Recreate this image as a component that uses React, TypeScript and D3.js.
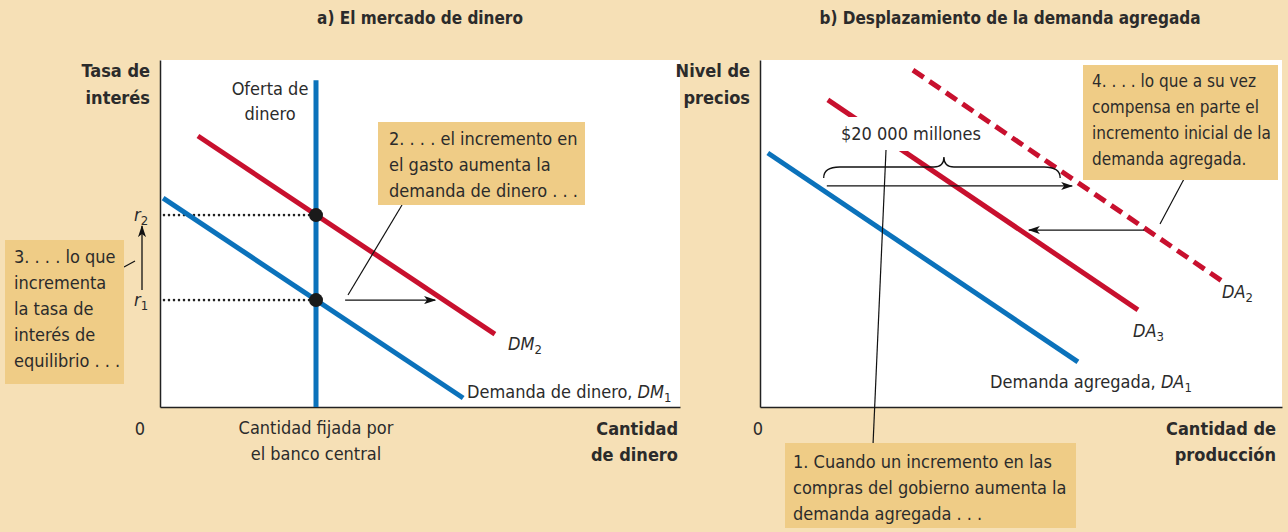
import React, { useEffect, useRef } from "react";
import * as d3 from "d3";

// panel a) values, in chart units (0..100 on both axes)
const supplyQ = 30;
const supplyTop = 94.2;
const r1 = 30.8;
const r2 = 55.3;
const dm1: [number, number][] = [[0.6, 60.2], [58.3, 2.6]];
const dm2: [number, number][] = [[7.3, 78.1], [64.4, 21.0]];
const dmShift: [number, number][] = [[35.6, r1], [52.9, r1]];

// panel b) values
const da1: [number, number][] = [[1.5, 73.2], [60.9, 13.0]];
const da3: [number, number][] = [[13.0, 88.5], [72.4, 28.0]];
const da2: [number, number][] = [[29.3, 97.1], [89.1, 35.7]];
const daShiftRight: [number, number][] = [[12.8, 63.7], [59.8, 63.7]];
const daShiftLeft: [number, number][] = [[73.6, 51.0], [51.5, 51.0]];
const braceFrom = 12.2;
const braceTo = 57.5;

const titleA = "a) El mercado de dinero";
const titleB = "b) Desplazamiento de la demanda agregada";
const note2 = ["2. . . . el incremento en", "el gasto aumenta la", "demanda de dinero . . ."];
const note3 = ["3. . . . lo que", "incrementa", "la tasa de", "interés de", "equilibrio . . ."];
const note4 = ["4. . . . lo que a su vez", "compensa en parte el", "incremento inicial de la", "demanda agregada."];
const note1 = ["1. Cuando un incremento en las", "compras del gobierno aumenta la", "demanda agregada . . ."];

const BG = "#f6e0b6";
const BOX = "#efcc86";
const BLUE = "#0b72bb";
const RED = "#c8102e";
const INK = "#2b2b2b";
const FONT = "'Liberation Sans Narrow', 'DejaVu Sans Condensed', Roboto, sans-serif";

export default function App() {
  const ref = useRef<HTMLDivElement>(null);

  useEffect(() => {
    document.body.style.margin = "0";
    const root = d3.select(ref.current);
    root.selectAll("*").remove();
    const W = 1288, H = 532;
    const svg = root.append("svg").attr("width", W).attr("height", H)
      .style("display", "block").style("font-family", FONT);

    svg.append("rect").attr("width", W).attr("height", H).attr("fill", BG);

    const defs = svg.append("defs");
    defs.append("marker").attr("id", "arr").attr("viewBox", "0 0 12 8")
      .attr("refX", 11).attr("refY", 4).attr("markerWidth", 12).attr("markerHeight", 8)
      .attr("markerUnits", "userSpaceOnUse").attr("orient", "auto")
      .append("path").attr("d", "M0,0 L12,4 L0,8 L3,4 Z").attr("fill", "#111");

    const line = d3.line();

    // ---------- panel a ----------
    const xA = d3.scaleLinear().domain([0, 100]).range([160, 680]);
    const yA = d3.scaleLinear().domain([0, 100]).range([407, 60]);
    const pA = (d: [number, number][]) => line(d.map(([a, b]) => [xA(a), yA(b)]));

    svg.append("rect").attr("x", xA(0)).attr("y", yA(100)).attr("width", xA(100) - xA(0))
      .attr("height", yA(0) - yA(100)).attr("fill", "#fff");

    svg.append("g").attr("transform", `translate(${xA(0)},0)`)
      .call(d3.axisLeft(yA).ticks(0).tickSizeOuter(0))
      .select(".domain").attr("stroke", "#222").attr("stroke-width", 1.5);
    svg.append("g").attr("transform", `translate(0,${yA(0)})`)
      .call(d3.axisBottom(xA).ticks(0).tickSizeOuter(0))
      .select(".domain").attr("stroke", "#222").attr("stroke-width", 1.5);

    [r1, r2].forEach((r) => {
      svg.append("line").attr("x1", xA(0) + 4).attr("x2", xA(supplyQ)).attr("y1", yA(r)).attr("y2", yA(r))
        .attr("stroke", "#222").attr("stroke-width", 2.6).attr("stroke-linecap", "round")
        .attr("stroke-dasharray", "0 5");
    });

    svg.append("path").attr("d", pA(dm2)).attr("stroke", RED).attr("stroke-width", 5).attr("fill", "none");
    svg.append("path").attr("d", pA(dm1)).attr("stroke", BLUE).attr("stroke-width", 5).attr("fill", "none");
    svg.append("line").attr("x1", xA(supplyQ)).attr("x2", xA(supplyQ)).attr("y1", yA(supplyTop)).attr("y2", yA(0))
      .attr("stroke", BLUE).attr("stroke-width", 5);

    [r1, r2].forEach((r) => {
      svg.append("circle").attr("cx", xA(supplyQ)).attr("cy", yA(r)).attr("r", 7).attr("fill", "#1a1a1a");
    });

    svg.append("path").attr("d", pA(dmShift)).attr("stroke", "#111").attr("stroke-width", 1.3)
      .attr("fill", "none").attr("marker-end", "url(#arr)");

    // r1 -> r2 arrow
    svg.append("line").attr("x1", 142).attr("x2", 142).attr("y1", yA(r1) - 10).attr("y2", yA(r2) + 11)
      .attr("stroke", "#111").attr("stroke-width", 1.3).attr("marker-end", "url(#arr)");

    const txt = (x: number, y: number, s: string, anchor = "start", opt: any = {}) => {
      const t = svg.append("text").attr("x", x).attr("y", y).attr("text-anchor", anchor)
        .attr("fill", INK).attr("font-size", opt.size || 18)
        .attr("font-weight", opt.bold ? 700 : 400).text(s);
      return t;
    };
    const sub = (x: number, y: number, base: string, idx: string, pre = "") => {
      const t = svg.append("text").attr("x", x).attr("y", y).attr("fill", INK).attr("font-size", 18);
      if (pre) t.append("tspan").text(pre);
      t.append("tspan").attr("font-style", "italic").text(base);
      t.append("tspan").attr("font-size", 13).attr("dy", 4).text(idx);
      return t;
    };

    // r labels
    sub(134, yA(r2) + 6, "r", "2");
    sub(134, yA(r1) + 6, "r", "1");

    txt(xA(50), 24, titleA, "middle", { bold: true, size: 17 });
    txt(150, 77, "Tasa de", "end", { bold: true });
    txt(150, 104, "interés", "end", { bold: true });
    txt(270, 95, "Oferta de", "middle");
    txt(270, 120, "dinero", "middle");
    txt(140, 435, "0", "middle");
    txt(xA(supplyQ), 434, "Cantidad fijada por", "middle");
    txt(xA(supplyQ), 460, "el banco central", "middle");
    txt(678, 435, "Cantidad", "end", { bold: true });
    txt(678, 461, "de dinero", "end", { bold: true });

    sub(508, 350, "DM", "2");
    sub(467, 398, "DM", "1", "Demanda de dinero, ");

    const box = (x: number, y: number, w: number, h: number, lines: string[], tx: number, ty: number, size = 18) => {
      svg.append("rect").attr("x", x).attr("y", y).attr("width", w).attr("height", h).attr("fill", BOX);
      lines.forEach((s, i) => txt(tx, ty + i * 26, s, "start", { size }));
    };

    // callout 2 + leader
    svg.append("line").attr("x1", 402).attr("y1", 205).attr("x2", 348).attr("y2", 295)
      .attr("stroke", "#111").attr("stroke-width", 1.2);
    box(378, 122, 207, 83, note2, 389, 145);

    // callout 3 + leader
    svg.append("line").attr("x1", 124).attr("y1", 267).attr("x2", 135).attr("y2", 261)
      .attr("stroke", "#111").attr("stroke-width", 1.2);
    box(5, 240, 119, 144, note3, 14, 263);

    // ---------- panel b ----------
    const xB = d3.scaleLinear().domain([0, 100]).range([760, 1282]);
    const yB = d3.scaleLinear().domain([0, 100]).range([407, 60]);
    const pB = (d: [number, number][]) => line(d.map(([a, b]) => [xB(a), yB(b)]));

    svg.append("rect").attr("x", xB(0)).attr("y", yB(100)).attr("width", xB(100) - xB(0))
      .attr("height", yB(0) - yB(100)).attr("fill", "#fff");
    svg.append("g").attr("transform", `translate(${xB(0)},0)`)
      .call(d3.axisLeft(yB).ticks(0).tickSizeOuter(0))
      .select(".domain").attr("stroke", "#222").attr("stroke-width", 1.5);
    svg.append("g").attr("transform", `translate(0,${yB(0)})`)
      .call(d3.axisBottom(xB).ticks(0).tickSizeOuter(0))
      .select(".domain").attr("stroke", "#222").attr("stroke-width", 1.5);

    svg.append("path").attr("d", pB(da3)).attr("stroke", RED).attr("stroke-width", 5).attr("fill", "none");
    svg.append("path").attr("d", pB(da1)).attr("stroke", BLUE).attr("stroke-width", 5).attr("fill", "none");

    // label on white behind, hiding DA3 where it passes
    svg.append("rect").attr("x", 836).attr("y", 117).attr("width", 142).attr("height", 34).attr("fill", "#fff");
    txt(911, 140, "$20 000 millones", "middle");

    svg.append("path").attr("d", pB(da2)).attr("stroke", RED).attr("stroke-width", 5)
      .attr("stroke-dasharray", "13 7").attr("fill", "none");

    svg.append("path").attr("d", pB(daShiftRight)).attr("stroke", "#111").attr("stroke-width", 1.3)
      .attr("fill", "none").attr("marker-end", "url(#arr)");
    svg.append("path").attr("d", pB(daShiftLeft)).attr("stroke", "#111").attr("stroke-width", 1.3)
      .attr("fill", "none").attr("marker-end", "url(#arr)");

    // leader 1
    svg.append("line").attr("x1", 873).attr("y1", 445).attr("x2", 886).attr("y2", 150)
      .attr("stroke", "#111").attr("stroke-width", 1.2);

    // brace
    const bx0 = xB(braceFrom), bx1 = xB(braceTo), bm = (bx0 + bx1) / 2 + 2;
    const by = 167;
    const brace = d3.path();
    brace.moveTo(bx0, by + 11);
    brace.quadraticCurveTo(bx0, by, bx0 + 16, by);
    brace.lineTo(bm - 10, by);
    brace.quadraticCurveTo(bm, by, bm, by - 10);
    brace.quadraticCurveTo(bm, by, bm + 10, by);
    brace.lineTo(bx1 - 16, by);
    brace.quadraticCurveTo(bx1, by, bx1, by + 11);
    svg.append("path").attr("d", brace.toString()).attr("stroke", "#111").attr("stroke-width", 1.3).attr("fill", "none");

    // leader 4
    svg.append("line").attr("x1", 1184).attr("y1", 179).attr("x2", 1160).attr("y2", 224)
      .attr("stroke", "#111").attr("stroke-width", 1.2);

    sub(1222, 298, "DA", "2");
    sub(1133, 337, "DA", "3");
    sub(990, 388, "DA", "1", "Demanda agregada, ");

    txt(1010, 24, titleB, "middle", { bold: true, size: 17 });
    txt(750, 77, "Nivel de", "end", { bold: true });
    txt(750, 104, "precios", "end", { bold: true });
    txt(758, 435, "0", "middle");
    txt(1276, 435, "Cantidad de", "end", { bold: true });
    txt(1276, 461, "producción", "end", { bold: true });

    box(1083, 65, 195, 115, note4, 1092, 87, 17);
    box(785, 443, 291, 85, note1, 793, 468);
  }, []);

  return <div ref={ref}></div>;
}
